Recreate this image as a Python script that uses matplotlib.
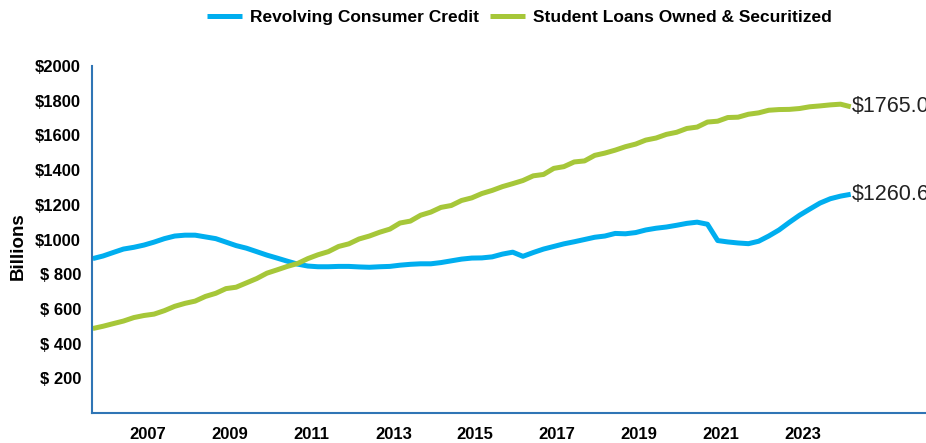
import matplotlib
matplotlib.use("Agg")
import matplotlib.pyplot as plt
import pandas as pd

plt.rcParams["font.family"] = ["Liberation Sans", "DejaVu Sans"]

# 季度数据 (十亿美元)
dates = pd.date_range("2005-09-01", periods=75, freq="3MS")
revolving = [890, 905, 925, 945, 955, 968, 985, 1005, 1020, 1025,
             1025, 1015, 1005, 985, 965, 950, 930, 910, 893, 875,
             858, 847, 843, 843, 845, 845, 842, 840, 843, 845,
             852, 857, 860, 860, 867, 877, 887, 893, 894, 900,
             916, 927, 903, 925, 945, 960, 975, 987, 1000, 1013,
             1020, 1035, 1033, 1040, 1055, 1065, 1072, 1082, 1093, 1100,
             1088, 994, 986, 980, 976, 990, 1020, 1055, 1099, 1140,
             1175, 1210, 1235, 1250, 1260.6]
student = [487, 500, 515, 530, 550, 562, 570, 590, 615, 632,
           645, 672, 690, 717, 725, 750, 775, 806, 825, 845,
           862, 890, 912, 930, 960, 975, 1003, 1020, 1042, 1060,
           1095, 1106, 1140, 1158, 1185, 1196, 1225, 1240, 1265, 1283,
           1305, 1322, 1340, 1367, 1375, 1410, 1420, 1447, 1453, 1485,
           1498, 1515, 1535, 1550, 1573, 1585, 1606, 1618, 1640, 1648,
           1677, 1682, 1703, 1705, 1722, 1730, 1745, 1749, 1750, 1755,
           1765, 1770, 1776, 1780, 1765.0]
years = list(range(2007, 2024, 2))
yticks = [200, 400, 600, 800, 1000, 1200, 1400, 1600, 1800, 2000]
ylabels = ["$ 200", "$ 400", "$ 600", "$ 800", "$1000", "$1200",
           "$1400", "$1600", "$1800", "$2000"]

blue = "#00AEEF"
green = "#A6C739"

fig = plt.figure(figsize=(9.26, 4.43), dpi=100)
ax = fig.add_axes([0.0994, 0.0677, 0.9006, 0.7833])

ax.plot(dates, revolving, color=blue, lw=3.6, label="Revolving Consumer Credit",
        solid_capstyle="butt")
ax.plot(dates, student, color=green, lw=3.6, label="Student Loans Owned & Securitized",
        solid_capstyle="butt")

# 末值标注 (参考图中也在右边被截断)
for vals in (student, revolving):
    ax.annotate(f"${vals[-1]:.1f}", (dates[-1], vals[-1]), xytext=(1, 0),
                textcoords="offset points", va="center", ha="left",
                fontsize=15.5, color="#222222", annotation_clip=False)

ax.set_ylim(0, 2000)
ax.set_xlim(pd.Timestamp("2005-08-25"), pd.Timestamp("2026-01-01"))
ax.set_yticks(yticks)
ax.set_yticklabels(ylabels, fontsize=12, fontweight="bold")
ax.set_xticks([pd.Timestamp(f"{y}-01-01") for y in years])
ax.set_xticklabels([str(y) for y in years], fontsize=12, fontweight="bold")
ax.tick_params(axis="y", length=0, pad=8)
ax.tick_params(axis="x", length=0, pad=10)

for s in ("top", "right"):
    ax.spines[s].set_visible(False)
for s in ("left", "bottom"):
    ax.spines[s].set_color("#2F75B5")
    ax.spines[s].set_linewidth(1.5)

ax.set_ylabel("Billions", fontsize=13.5, fontweight="bold")
ax.yaxis.set_label_coords(-0.078, 0.48)

fig.legend(loc="center", bbox_to_anchor=(0.561, 0.961), ncol=2, frameon=False,
           prop={"size": 12.5, "weight": "bold"}, handlelength=2.0,
           handletextpad=0.46, columnspacing=0.64)

fig.savefig("out.png", dpi=100)
